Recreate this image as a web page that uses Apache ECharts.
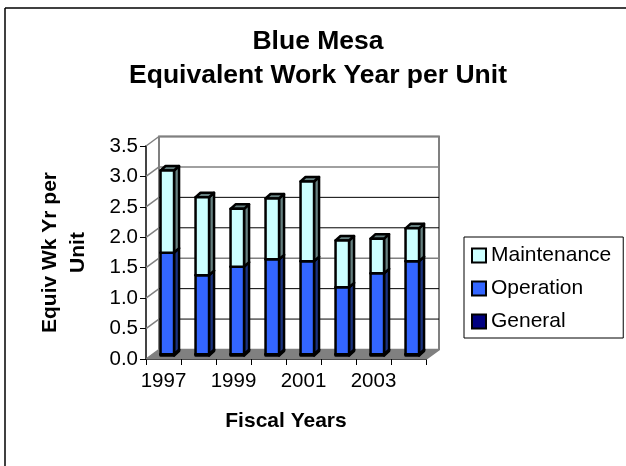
<!DOCTYPE html>
<html><head><meta charset="utf-8">
<style>html,body{margin:0;padding:0;background:#fff}#c{width:626px;height:466px}</style>
<script src="https://cdn.jsdelivr.net/npm/echarts@6/dist/echarts.min.js"></script>
</head><body><div id="c"></div>
<script>
const years = ['1997','1998','1999','2000','2001','2002','2003','2004'];
const general = [0.02,0.02,0.02,0.02,0.02,0.02,0.02,0.02];
const operation = [1.67,1.30,1.44,1.56,1.53,1.10,1.33,1.53];
const maintenance = [1.35,1.28,0.95,1.00,1.31,0.77,0.57,0.54];
const yTicks = [0,0.5,1,1.5,2,2.5,3,3.5];
const gridColors = ['#808080','#000000','#000000','#808080','#000000','#000000','#808080','#808080'];
const FONT = '"Liberation Sans", Arial, sans-serif';
const DX = 13, DY = -9.5;
const BAR_W = 13.5, SIDE_X = 5, SIDE_Y = 4.5, SHIFT_X = 3.8, SHIFT_Y = -3.5;

function cumulative(base, vals){return vals.map((v,i)=>[i,base[i],base[i]+v]);}
const gRows = cumulative(general.map(()=>0), general);
const oRows = cumulative(gRows.map(r=>r[2]), operation);
const mRows = cumulative(oRows.map(r=>r[2]), maintenance);

function barRender(front, side){
  return function(params, api){
    const a = api.coord([api.value(0), api.value(1)]);
    const b = api.coord([api.value(0), api.value(2)]);
    const l = a[0]+SHIFT_X-BAR_W/2, r = l+BAR_W, y0 = a[1]+SHIFT_Y, y1 = b[1]+SHIFT_Y;
    const st = c=>({fill:c, stroke:'#000', lineWidth:2.5, lineJoin:'round'});
    return {type:'group', children:[
      {type:'polygon', shape:{points:[[r,y0],[r+SIDE_X,y0-SIDE_Y],[r+SIDE_X,y1-SIDE_Y],[r,y1]]}, style:st(side)},
      {type:'polygon', shape:{points:[[l,y1],[r,y1],[r+SIDE_X,y1-SIDE_Y],[l+SIDE_X,y1-SIDE_Y]]}, style:st(side)},
      {type:'polygon', shape:{points:[[l,y0],[r,y0],[r,y1],[l,y1]]}, style:st(front)}
    ]};
  };
}
function wallRender(params, api){
  const cs = params.coordSys;
  const L=cs.x, R=cs.x+cs.width, T=cs.y, B=cs.y+cs.height;
  const gray={stroke:'#808080', lineWidth:2, fill:null};
  return {type:'group', children:[
    {type:'polygon', shape:{points:[[L,B],[R,B],[R+DX,B+DY],[L+DX,B+DY]]}, style:{fill:'#808080'}},
    {type:'polyline', shape:{points:[[L+DX,B+DY],[L+DX,T+DY],[R+DX,T+DY],[R+DX,B+DY],[R,B]]}, style:gray}
  ]};
}
function gridRender(params, api){
  const p = api.coord([0, api.value(1)]);
  const cs = params.coordSys;
  const L=cs.x, R=cs.x+cs.width, y=p[1];
  const c = gridColors[params.dataIndex];
  return {type:'group', children:[
    {type:'line', shape:{x1:L,y1:y,x2:L+DX,y2:y+DY}, style:{stroke:'#808080',lineWidth:1.5}},
    {type:'line', shape:{x1:L+DX,y1:y+DY,x2:R+DX,y2:y+DY}, style:{stroke:c,lineWidth:c==='#000000'?1:1.5}}
  ]};
}
const barSeries = (name,rows,front,side)=>({
  name, type:'custom', data:rows, encode:{x:0,y:[1,2]}, clip:false, z:5,
  itemStyle:{color:front, borderColor:'#000', borderWidth:2},
  renderItem:barRender(front,side)
});
const chart = echarts.init(document.getElementById('c'), null, {renderer:'canvas'});
chart.setOption({
  animation:false, backgroundColor:'#fff',
  title:{text:'Blue Mesa\nEquivalent Work Year per Unit', left:313, top:19, textAlign:'center',
    textStyle:{fontFamily:FONT,fontWeight:'bold',fontSize:26.5,lineHeight:34.5,color:'#000'}},
  legend:{orient:'vertical', left:464, top:237, padding:[8,12,6,7], itemGap:12,
    itemWidth:14, itemHeight:14, icon:'rect', backgroundColor:'#fff', borderColor:'#000', borderWidth:1, borderRadius:0,
    data:['Maintenance','Operation','General'], selectedMode:false,
    textStyle:{fontFamily:FONT,fontSize:21,color:'#000'}},
  grid:{left:146, top:146, width:280, height:213},
  xAxis:{type:'category', data:years, boundaryGap:true, 
    name:'Fiscal Years', nameLocation:'middle', nameGap:52,
    nameTextStyle:{fontFamily:FONT,fontWeight:'bold',fontSize:21,color:'#000'},
    axisLine:{show:true,lineStyle:{color:'#111',width:1.5}},
    axisTick:{show:true,length:6,interval:0,alignWithLabel:false,lineStyle:{color:'#000'}},
    axisLabel:{interval:1,fontFamily:FONT,fontSize:20.5,color:'#000',margin:12},
    splitLine:{show:false}},
  yAxis:{type:'value', min:0, max:3.5, interval:0.5,
    name:'Equiv Wk Yr per\nUnit', nameLocation:'middle', nameRotate:90, nameGap:54,
    nameTextStyle:{fontFamily:FONT,fontWeight:'bold',fontSize:21,lineHeight:28,color:'#000'},
    axisLine:{show:true,lineStyle:{color:'#444',width:2}},
    axisTick:{show:true,length:6,lineStyle:{color:'#000'}},
    axisLabel:{fontFamily:FONT,fontSize:20.5,color:'#000',margin:8,formatter:v=>v.toFixed(1)},
    splitLine:{show:false}},
  series:[
    {type:'custom', data:[[0,0]], encode:{x:0,y:1}, clip:false, silent:true, z:1, renderItem:wallRender, legendHoverLink:false},
    {type:'custom', data:yTicks.map(v=>[0,v]), encode:{x:0,y:1}, clip:false, silent:true, z:2, renderItem:gridRender},
    barSeries('General',gRows,'#000080','#000040'),
    barSeries('Operation',oRows,'#3366ff','#1a3380'),
    barSeries('Maintenance',mRows,'#ccffff','#668080')
  ],
  graphic:[
    {type:'line', silent:true, shape:{x1:5,y1:8,x2:626,y2:8}, style:{stroke:'#000',lineWidth:1.5}},
    {type:'line', silent:true, shape:{x1:5,y1:8,x2:5,y2:466}, style:{stroke:'#000',lineWidth:1.5}}
  ]
});
</script></body></html>
